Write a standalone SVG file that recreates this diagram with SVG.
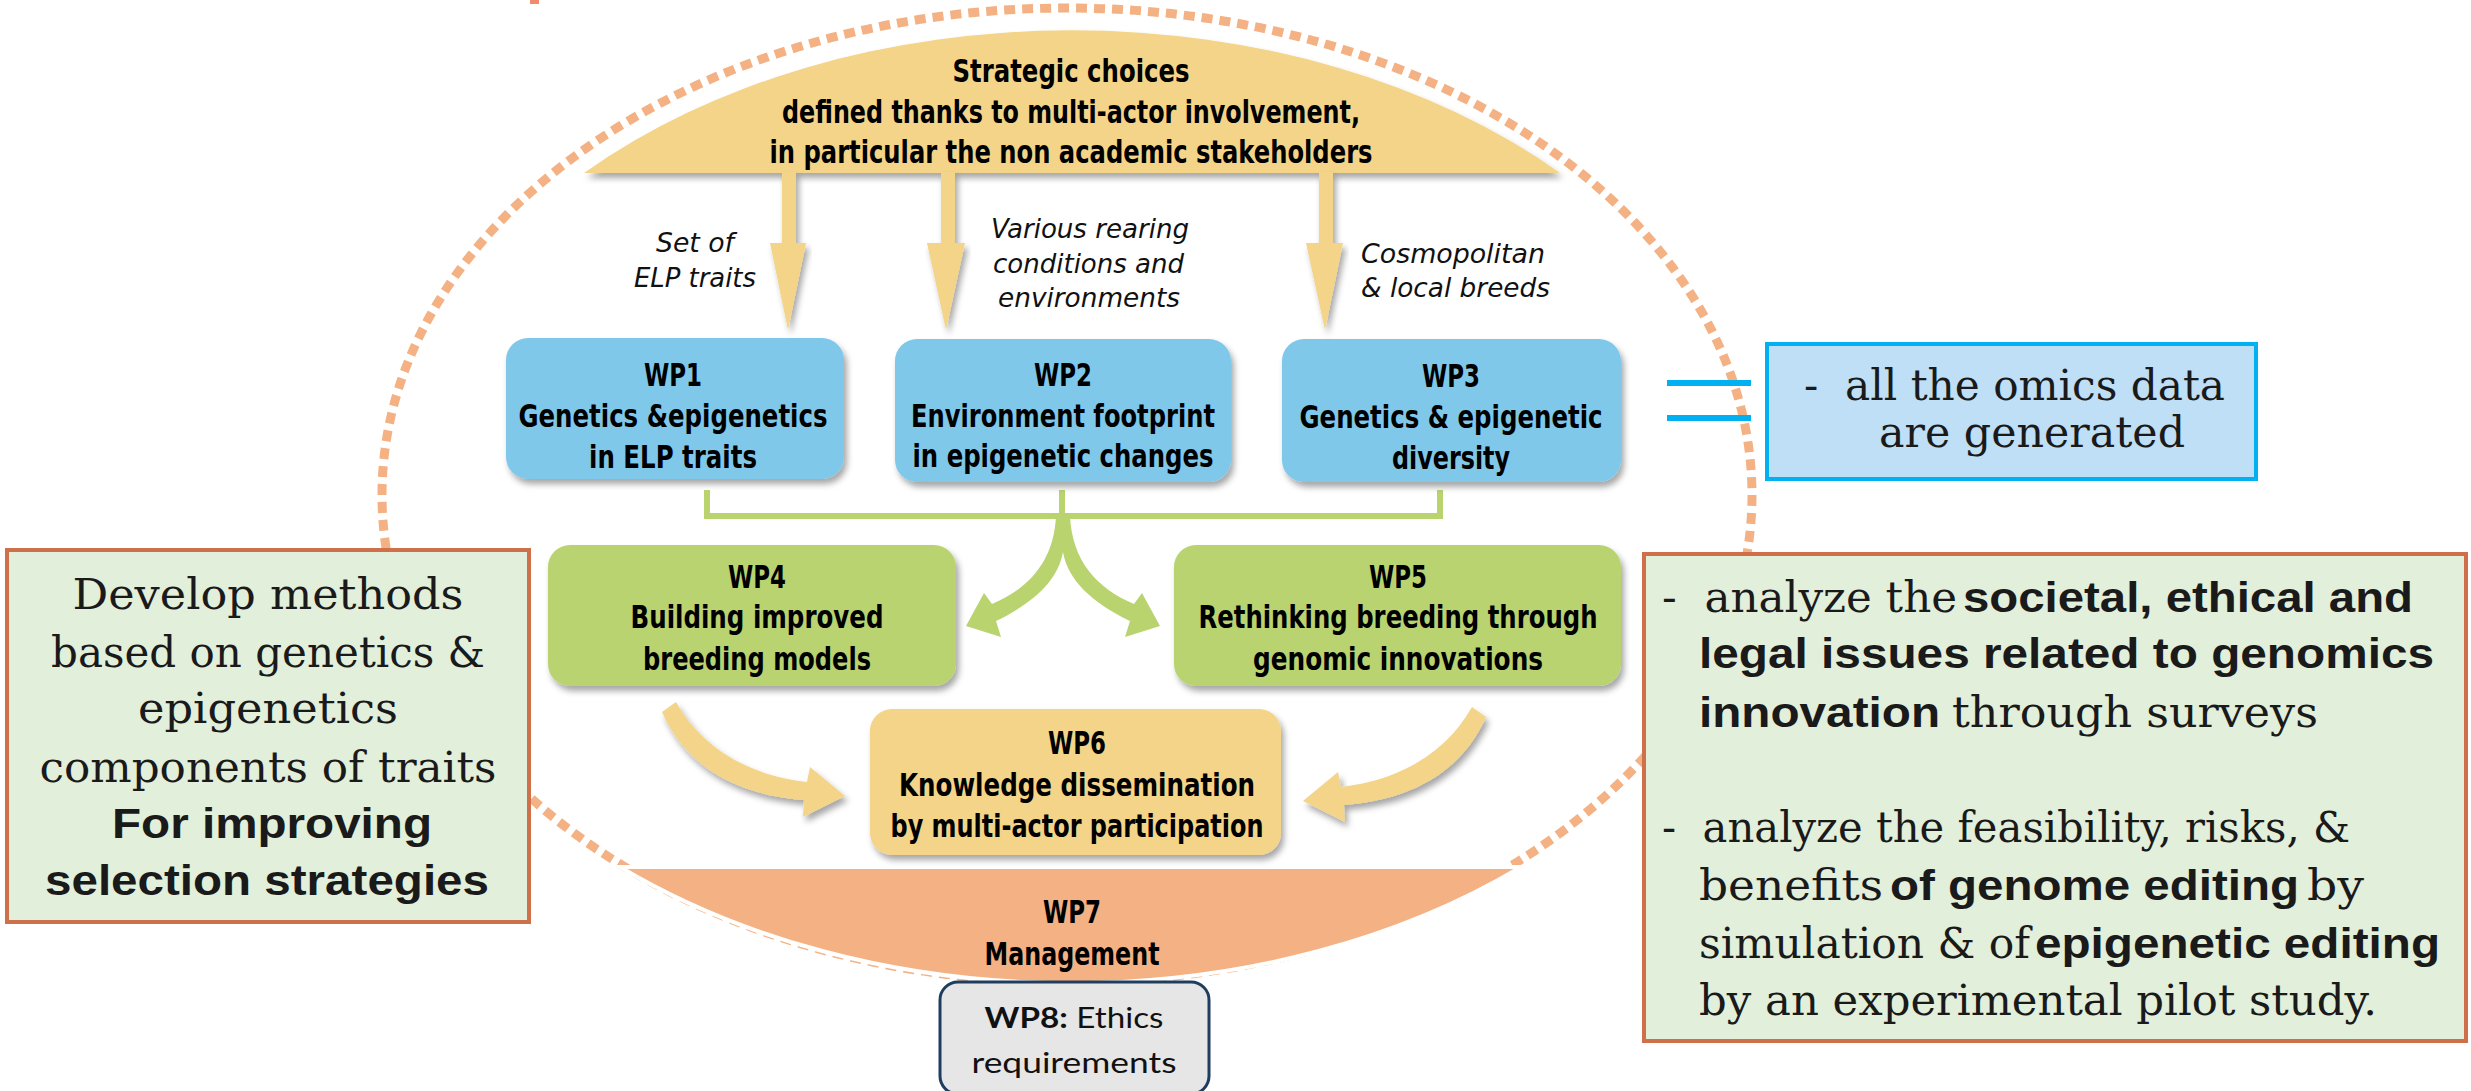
<svg xmlns="http://www.w3.org/2000/svg" width="2471" height="1091" viewBox="0 0 2471 1091">
<defs>
<filter id="sh" x="-10%" y="-10%" width="125%" height="135%">
<feDropShadow dx="3" dy="5" stdDeviation="3" flood-color="#000" flood-opacity="0.35"/>
</filter>
<style>
.wp{font-family:"Liberation Sans Narrow","DejaVu Sans Condensed","Liberation Sans",sans-serif;font-weight:bold;font-size:32px;text-anchor:middle;fill:#000}
.lbl{font-family:"Liberation Sans Narrow","DejaVu Sans Condensed","Liberation Sans",sans-serif;font-style:italic;font-size:27px;fill:#111}
.slab{font-family:"DejaVu Serif","Liberation Serif",serif;font-size:43px;fill:#1a1a1a}
.bs{font-family:"Liberation Sans",Arial,sans-serif;font-weight:bold;font-size:43px;fill:#1a1a1a}
.mid{text-anchor:middle}
.blue{fill:#7FC8EA;filter:url(#sh)}
.green{fill:#B9D36F;filter:url(#sh)}
.yellow{fill:#F3D488;filter:url(#sh)}
.note{fill:#E2EFDA;stroke:#D0704B;stroke-width:4}
.eq{stroke:#00B0F0;stroke-width:6;fill:none}
</style>
</defs>
<rect width="2471" height="1091" fill="#fff"/>

<!-- dotted ring -->
<g id="ring">
<rect x="530" y="0" width="9" height="4" fill="#F08C6C"/>
<ellipse cx="1067" cy="495" rx="685" ry="487" fill="none" stroke="#F4B183" stroke-width="9" stroke-dasharray="11 7"/>
</g>

<!-- WP7 bowl -->
<g id="wp7">
<path d="M620,867 A695,487 0 0 0 1521,867 Z" fill="#F4B183" stroke="#fff" stroke-width="4"/>
<text class="wp" x="1072" y="923" textLength="58" lengthAdjust="spacingAndGlyphs">WP7</text>
<text class="wp" x="1072" y="965" textLength="175" lengthAdjust="spacingAndGlyphs">Management</text>
</g>

<!-- Strategic choices dome -->
<g id="strategic">
<path class="yellow" d="M584,173 A677,465 0 0 1 1560,173 Z"/>
<text class="wp" x="1071" y="82" textLength="237" lengthAdjust="spacingAndGlyphs">Strategic choices</text>
<text class="wp" x="1071" y="123" textLength="578" lengthAdjust="spacingAndGlyphs">defined thanks to multi-actor involvement,</text>
<text class="wp" x="1071" y="163" textLength="603" lengthAdjust="spacingAndGlyphs">in particular the non academic stakeholders</text>
</g>

<!-- connectors -->
<g id="connectors">
<path class="yellow" d="M782,172 H796 V243 H806 L788,330 L770,243 H782 Z"/>
<path class="yellow" d="M941,172 H955 V243 H965 L946,330 L927,243 H941 Z"/>
<path class="yellow" d="M1319,172 H1333 V243 H1343 L1325,330 L1306,243 H1319 Z"/>
<path d="M707,490 V516 H1440 V490 M1062,490 V519" fill="none" stroke="#B9D36F" stroke-width="6"/>
<path fill="#B9D36F" d="M1056,516 C1054,560 1030,588 992,604 L984,593 L966,626 L1001,637 L996,621 C1035,602 1058,580 1063,552 L1063,516 Z"/>
<path fill="#B9D36F" d="M1070,516 C1072,560 1096,588 1134,604 L1142,593 L1160,626 L1125,637 L1130,621 C1091,602 1068,580 1063,552 L1063,516 Z"/>
<path class="yellow" d="M676,702 C700,745 745,775 807,782 L810,767 L845,796 L803,817 L804,800 C735,795 685,765 662,712 Z"/>
<path class="yellow" d="M1472,707 C1448,750 1403,780 1341,787 L1338,772 L1303,801 L1345,822 L1344,805 C1413,800 1463,770 1486,717 Z"/>
<path class="eq" d="M1667,383 H1751 M1667,418 H1751"/>
</g>

<text class="lbl" x="656" y="252" textLength="78" lengthAdjust="spacingAndGlyphs">Set of</text>
<text class="lbl" x="634" y="287" textLength="122" lengthAdjust="spacingAndGlyphs">ELP traits</text>
<text class="lbl" x="991" y="238" textLength="198" lengthAdjust="spacingAndGlyphs">Various rearing</text>
<text class="lbl" x="993" y="273" textLength="191" lengthAdjust="spacingAndGlyphs">conditions and</text>
<text class="lbl" x="998" y="307" textLength="182" lengthAdjust="spacingAndGlyphs">environments</text>
<text class="lbl" x="1361" y="263" textLength="184" lengthAdjust="spacingAndGlyphs">Cosmopolitan</text>
<text class="lbl" x="1361" y="297" textLength="189" lengthAdjust="spacingAndGlyphs">&amp; local breeds</text>

<g id="wp1">
<rect class="blue" x="506" y="338" width="338" height="141" rx="22"/>
<text class="wp" x="673" y="386" textLength="58" lengthAdjust="spacingAndGlyphs">WP1</text>
<text class="wp" x="673" y="427" textLength="309" lengthAdjust="spacingAndGlyphs">Genetics &amp;epigenetics</text>
<text class="wp" x="673" y="468" textLength="168" lengthAdjust="spacingAndGlyphs">in ELP traits</text>
</g>
<g id="wp2">
<rect class="blue" x="895" y="339" width="336" height="143" rx="22"/>
<text class="wp" x="1063" y="386" textLength="58" lengthAdjust="spacingAndGlyphs">WP2</text>
<text class="wp" x="1063" y="427" textLength="304" lengthAdjust="spacingAndGlyphs">Environment footprint</text>
<text class="wp" x="1063" y="467" textLength="301" lengthAdjust="spacingAndGlyphs">in epigenetic changes</text>
</g>
<g id="wp3">
<rect class="blue" x="1282" y="339" width="339" height="143" rx="22"/>
<text class="wp" x="1451" y="387" textLength="58" lengthAdjust="spacingAndGlyphs">WP3</text>
<text class="wp" x="1451" y="428" textLength="303" lengthAdjust="spacingAndGlyphs">Genetics &amp; epigenetic</text>
<text class="wp" x="1451" y="469" textLength="118" lengthAdjust="spacingAndGlyphs">diversity</text>
</g>
<g id="wp4">
<rect class="green" x="548" y="545" width="408" height="141" rx="22"/>
<text class="wp" x="757" y="588" textLength="58" lengthAdjust="spacingAndGlyphs">WP4</text>
<text class="wp" x="757" y="628" textLength="253" lengthAdjust="spacingAndGlyphs">Building improved</text>
<text class="wp" x="757" y="670" textLength="228" lengthAdjust="spacingAndGlyphs">breeding models</text>
</g>
<g id="wp5">
<rect class="green" x="1174" y="545" width="447" height="141" rx="22"/>
<text class="wp" x="1398" y="588" textLength="58" lengthAdjust="spacingAndGlyphs">WP5</text>
<text class="wp" x="1398" y="628" textLength="399" lengthAdjust="spacingAndGlyphs">Rethinking breeding through</text>
<text class="wp" x="1398" y="670" textLength="290" lengthAdjust="spacingAndGlyphs">genomic innovations</text>
</g>
<g id="wp6">
<rect class="yellow" x="870" y="709" width="411" height="146" rx="22"/>
<text class="wp" x="1077" y="754" textLength="58" lengthAdjust="spacingAndGlyphs">WP6</text>
<text class="wp" x="1077" y="796" textLength="356" lengthAdjust="spacingAndGlyphs">Knowledge dissemination</text>
<text class="wp" x="1077" y="837" textLength="373" lengthAdjust="spacingAndGlyphs">by multi-actor participation</text>
</g>
<g id="wp8">
<rect x="940" y="982" width="269" height="112" rx="18" fill="#E6E6E6" stroke="#1F3E5F" stroke-width="3"/>
<text x="1074" y="1028" font-family="Lato,'Liberation Sans',sans-serif" font-size="29" fill="#111" text-anchor="middle" textLength="179" lengthAdjust="spacingAndGlyphs"><tspan font-weight="bold">WP8:</tspan> Ethics</text>
<text x="1074" y="1073" font-family="Lato,'Liberation Sans',sans-serif" font-size="29" fill="#111" text-anchor="middle" textLength="205" lengthAdjust="spacingAndGlyphs">requirements</text>
</g>

<g id="omics">
<rect x="1767" y="344" width="489" height="135" fill="#BEDFF6" stroke="#00B0F0" stroke-width="4"/>
<text class="slab" x="1804" y="400" font-size="33" textLength="421" lengthAdjust="spacingAndGlyphs">-&#160;&#160;all the omics data</text>
<text class="slab" x="1879" y="447" font-size="33" textLength="306" lengthAdjust="spacingAndGlyphs">are generated</text>
</g>

<g id="left-note">
<rect class="note" x="7" y="550" width="522" height="372"/>
<text class="slab mid" x="268" y="609" textLength="391" lengthAdjust="spacingAndGlyphs">Develop methods</text>
<text class="slab mid" x="268" y="667" textLength="434" lengthAdjust="spacingAndGlyphs">based on genetics &amp;</text>
<text class="slab mid" x="268" y="723" textLength="260" lengthAdjust="spacingAndGlyphs">epigenetics</text>
<text class="slab mid" x="268" y="782" textLength="457" lengthAdjust="spacingAndGlyphs">components of traits</text>
<text class="bs mid" x="272" y="838" textLength="320" lengthAdjust="spacingAndGlyphs">For improving</text>
<text class="bs mid" x="267" y="895" textLength="444" lengthAdjust="spacingAndGlyphs">selection strategies</text>
</g>

<g id="right-note">
<rect class="note" x="1644" y="554" width="822" height="487"/>
<text class="slab" x="1662" y="612" textLength="295" lengthAdjust="spacingAndGlyphs">-&#160;&#160;analyze the</text>
<text class="bs" x="1963" y="612" textLength="450" lengthAdjust="spacingAndGlyphs">societal, ethical and</text>
<text class="bs" x="1699" y="668" textLength="735" lengthAdjust="spacingAndGlyphs">legal issues related to genomics</text>
<text class="bs" x="1699" y="727" textLength="241" lengthAdjust="spacingAndGlyphs">innovation</text>
<text class="slab" x="1952" y="727" textLength="366" lengthAdjust="spacingAndGlyphs">through surveys</text>
<text class="slab" x="1662" y="842" textLength="688" lengthAdjust="spacingAndGlyphs">-&#160;&#160;analyze the feasibility, risks, &amp;</text>
<text class="slab" x="1699" y="900" textLength="184" lengthAdjust="spacingAndGlyphs">benefits</text>
<text class="bs" x="1890" y="900" textLength="409" lengthAdjust="spacingAndGlyphs">of genome editing</text>
<text class="slab" x="2307" y="900" textLength="57" lengthAdjust="spacingAndGlyphs">by</text>
<text class="slab" x="1699" y="958" textLength="331" lengthAdjust="spacingAndGlyphs">simulation &amp; of</text>
<text class="bs" x="2035" y="958" textLength="405" lengthAdjust="spacingAndGlyphs">epigenetic editing</text>
<text class="slab" x="1699" y="1015" textLength="678" lengthAdjust="spacingAndGlyphs">by an experimental pilot study.</text>
</g>
</svg>
